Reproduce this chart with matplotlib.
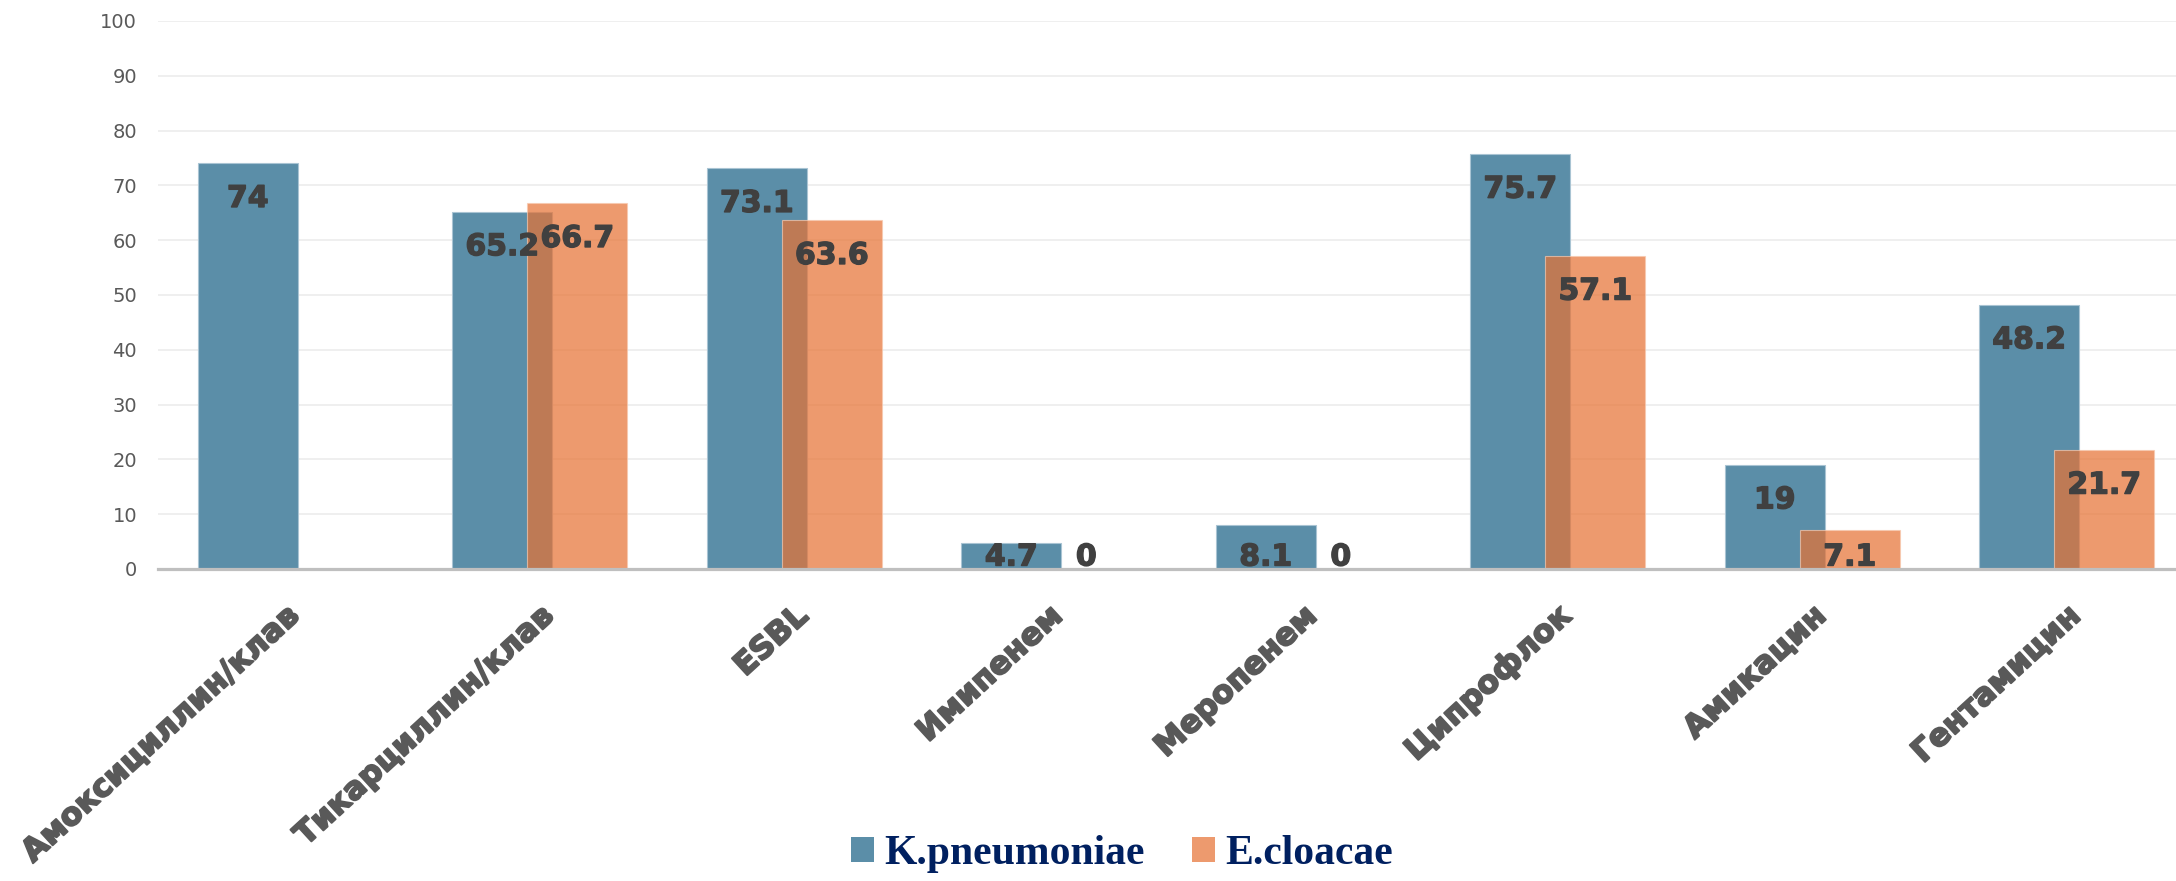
import matplotlib
matplotlib.use("Agg")
import matplotlib.pyplot as plt
import matplotlib.patheffects as pe
from matplotlib.patches import Patch
import numpy as np

categories = ["Амоксициллин/клав", "Тикарциллин/клав", "ESBL", "Имипенем",
              "Меропенем", "Ципрофлок", "Амикацин", "Гентамицин"]
series_names = ["K.pneumoniae", "E.cloacae"]
kpneu = [74, 65.2, 73.1, 4.7, 8.1, 75.7, 19, 48.2]
ecloacae = [np.nan, 66.7, 63.6, 0, 0, 57.1, 7.1, 21.7]
yticks = list(range(0, 101, 10))

W, H = 2176, 881
fig = plt.figure(figsize=(W / 100, H / 100), dpi=100)
ax = fig.add_axes([158 / W, 1 - 569 / H, 1 - 158 / W, (569 - 21) / H])

blue = "#5B8EA8"
orange = "#E77234"
oalpha = 0.715
x = np.arange(len(categories))
bw = 100 / 254.5
off = 37.5 / 254.5

ax.bar(x - off, kpneu, width=bw, color=blue, zorder=2, linewidth=0.8, edgecolor="#A9C4D3")
ax.bar(x + off, ecloacae, width=bw, color=orange, alpha=oalpha, zorder=3, linewidth=0.8,
       edgecolor="#F7C8AE")

lab_color = "#404040"
lab_font = dict(family="DejaVu Sans", weight="bold", size=21.5, color=lab_color)
px_per_unit = (569 - 21) / 100
def place(xc, v):
    if v is None or np.isnan(v):
        return
    yc = max(v - 35 / px_per_unit, 12 / px_per_unit)
    s = ("%g" % v)
    ax.text(xc, yc, s, ha="center", va="center", zorder=5,
            path_effects=[pe.withStroke(linewidth=1.0, foreground=lab_color)], **lab_font)

for i in range(len(categories)):
    place(x[i] - off, kpneu[i])
    place(x[i] + off, ecloacae[i])

ax.set_ylim(0, 100)
ax.set_xlim(-0.5, (W - 285.2) / 254.5)
ax.set_yticks(yticks)
ax.set_yticklabels([str(t) for t in yticks], family="DejaVu Sans", fontsize=14, color="#595959")
ax.tick_params(axis="y", length=0, pad=15)
ax.yaxis.grid(True, color="#EEEEEE", linewidth=1.3, zorder=0)
ax.set_axisbelow(True)
for s in ["top", "right", "left"]:
    ax.spines[s].set_visible(False)
ax.spines["bottom"].set_color("#BFBFBF")
ax.spines["bottom"].set_linewidth(2.3)
ax.spines["bottom"].set_zorder(4)

ax.set_xticks(x)
ax.set_xticklabels(categories, rotation=42.5, ha="right", va="top", rotation_mode="anchor",
                   family="DejaVu Sans", weight="bold", fontsize=22.5, color="#595959")
for t in ax.get_xticklabels():
    t.set_path_effects([pe.withStroke(linewidth=1.4, foreground="#595959")])
ax.tick_params(axis="x", length=0, pad=23)

handles = [Patch(facecolor=blue, edgecolor="none"),
           Patch(facecolor=orange, alpha=oalpha, edgecolor="none")]
fig.legend(handles, series_names, loc="center", bbox_to_anchor=(1122 / W, 1 - 854 / H),
           ncol=2, frameon=False,
           prop=dict(family="Liberation Serif", weight="bold", size=30),
           labelcolor="#002060", handlelength=0.54, handleheight=0.54,
           handletextpad=0.25, columnspacing=1.15, borderpad=0, borderaxespad=0)

fig.savefig("out.png", dpi=100)
